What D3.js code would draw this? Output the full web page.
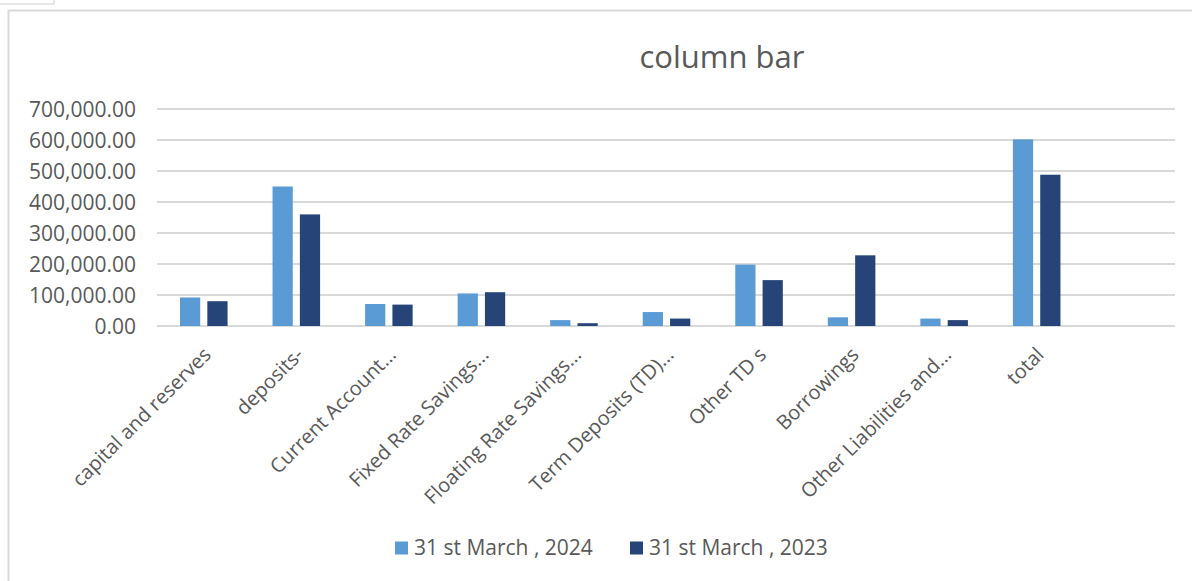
<!DOCTYPE html>
<html>
<head>
<meta charset="utf-8">
<script src="https://cdn.jsdelivr.net/npm/d3@7"></script>
<style>
  body { margin: 0; background: #fff; }
  svg text { font-family: "Open Sans", Lato, sans-serif; fill: #595959; }
</style>
</head>
<body>
<div id="chart"></div>
<script>
const categories = [
  "capital and reserves", "deposits-", "Current Account...", "Fixed Rate Savings...",
  "Floating Rate Savings...", "Term Deposits (TD)...", "Other TD s", "Borrowings",
  "Other Liabilities and...", "total", ""
];
const series2024 = [92000, 450000, 71000, 105000, 19000, 45000, 198000, 28000, 24000, 602000, null];
const series2023 = [80000, 360000, 69000, 109000, 9000, 24000, 148000, 228000, 19000, 488000, null];
const seriesNames = ["31 st March , 2024", "31 st March , 2023"];
const seriesColors = ["#5b9bd5", "#264478"];
const yTicks = [0, 100000, 200000, 300000, 400000, 500000, 600000, 700000];

const width = 1192, height = 581;
const plot = { left: 157, right: 1175, top: 109, bottom: 326 };

const svg = d3.select("#chart")
  .append("svg")
  .attr("width", width)
  .attr("height", height);

// frame bits
svg.append("rect").attr("x", -1).attr("y", -1).attr("width", 55).attr("height", 5)
  .attr("fill", "none").attr("stroke", "#d0d0d0");
svg.append("path").attr("d", `M8.5,${height} V10.5 H${width}`)
  .attr("fill", "none").attr("stroke", "#d9d9d9").attr("stroke-width", 2);

const x = d3.scaleBand()
  .domain(categories.map((d, i) => i))
  .range([plot.left, plot.right]);

const y = d3.scaleLinear()
  .domain([0, 700000])
  .range([plot.bottom, plot.top]);

const inner = d3.scaleBand()
  .domain([0, 1])
  .range([23, x.bandwidth() - 22])
  .paddingInner(0.26);

// gridlines
svg.append("g")
  .selectAll("line")
  .data(yTicks)
  .join("line")
  .attr("x1", plot.left)
  .attr("x2", plot.right)
  .attr("y1", d => y(d))
  .attr("y2", d => y(d))
  .attr("stroke", "#d9d9d9")
  .attr("stroke-width", 2);

// y labels
const fmt = d3.format(",.2f");
svg.append("g")
  .selectAll("text")
  .data(yTicks)
  .join("text")
  .attr("x", 136)
  .attr("y", d => y(d))
  .attr("dy", "0.36em")
  .attr("text-anchor", "end")
  .style("font-size", "21px")
  .text(d => fmt(d));

// bars
const groups = [series2024, series2023];
groups.forEach((vals, s) => {
  svg.append("g")
    .selectAll("rect")
    .data(vals.map((v, i) => ({ i, v })).filter(d => d.v != null))
    .join("rect")
    .attr("x", d => x(d.i) + inner(s))
    .attr("width", inner.bandwidth())
    .attr("y", d => y(d.v))
    .attr("height", d => y(0) - y(d.v))
    .attr("fill", seriesColors[s]);
});

// x labels
svg.append("g")
  .selectAll("text")
  .data(categories.map((c, i) => ({ c, i })).filter(d => d.c))
  .join("text")
  .attr("transform", d => `translate(${x(d.i) + x.bandwidth() / 2 + 4},${351}) rotate(-45)`)
  .attr("dy", "0.35em")
  .attr("text-anchor", "end")
  .style("font-size", "20px")
  .text(d => d.c);

// title
svg.append("text")
  .attr("x", 722)
  .attr("y", 68)
  .attr("text-anchor", "middle")
  .style("font-size", "31px")
  .text("column bar");

// legend
const legendX = [395, 630];
const legend = svg.append("g")
  .selectAll("g")
  .data(seriesNames)
  .join("g")
  .attr("transform", (d, i) => `translate(${legendX[i]},548)`);
legend.append("rect")
  .attr("x", 0).attr("y", -6.5).attr("width", 13).attr("height", 13)
  .attr("fill", (d, i) => seriesColors[i]);
legend.append("text")
  .attr("x", 19)
  .attr("dy", "0.35em")
  .style("font-size", "21px")
  .text(d => d);
</script>
</body>
</html>
